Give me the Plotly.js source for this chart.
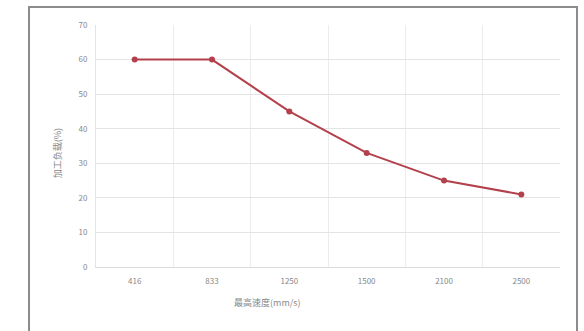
<!DOCTYPE html>
<html><head><meta charset="utf-8">
<script src="https://cdn.plot.ly/plotly-3.0.1.min.js"></script>
<style>
html,body{margin:0;padding:0;background:#fff;}
#wrap{position:relative;width:584px;height:331px;overflow:hidden;}
#chart{position:absolute;left:0;top:0;width:584px;height:331px;}
#frame{position:absolute;left:28px;top:6px;width:546px;height:340px;border:2px solid #8c8c8c;pointer-events:none;}
</style></head>
<body><div id="wrap"><div id="chart"></div><div id="frame"></div></div>
<script>
const categories = ["416", "833", "1250", "1500", "2100", "2500"];
const loadValues = [60, 60, 45, 33, 25, 21];
const yTicks = [0, 10, 20, 30, 40, 50, 60, 70];
const xTitle = "最高速度(mm/s)";
const yTitle = "加工负载(%)";

const font = "Noto Sans CJK SC, Noto Sans, sans-serif";
const trace = {
  x: categories, y: loadValues, type: "scatter", mode: "lines+markers",
  line: {color: "#b3414b", width: 2},
  marker: {color: "#b3414b", size: 6}
};
const layout = {
  width: 584, height: 331,
  margin: {l: 96, r: 24, t: 25, b: 64},
  paper_bgcolor: "#fff", plot_bgcolor: "#fff",
  showlegend: false,
  font: {family: font, size: 8, color: "#888"},
  xaxis: {
    type: "category", range: [-0.5, 5.5], tickson: "boundaries", showgrid: true, gridcolor: "#ececec",
    showline: true, linecolor: "#dcdcdc", linewidth: 1, ticks: "", ticklen: 0, ticklabelstandoff: 6,
    tickfont: {size: 8, color: "#888"}, zeroline: false
  },
  yaxis: {
    range: [0, 70], tickvals: yTicks, ticktext: yTicks.map(String),
    showgrid: true, gridcolor: "#e4e4e4", zeroline: false,
    showline: true, linecolor: "#e4e4e4", ticks: "", ticklabelstandoff: 6,
    tickfont: {size: 8, color: "#888"}
  },
  annotations: [
    {text: xTitle, xref: "paper", yref: "paper", x: 0.37, y: -0.145, xanchor: "center", yanchor: "middle",
     showarrow: false, font: {family: font, size: 9, color: "#888"}},
    {text: yTitle, xref: "paper", yref: "paper", x: -0.084, y: 0.47, xanchor: "center", yanchor: "middle",
     textangle: -90, showarrow: false, font: {family: font, size: 9, color: "#888"}}
  ]
};
Plotly.newPlot("chart", [trace], layout, {displayModeBar: false, staticPlot: true});
</script></body></html>
